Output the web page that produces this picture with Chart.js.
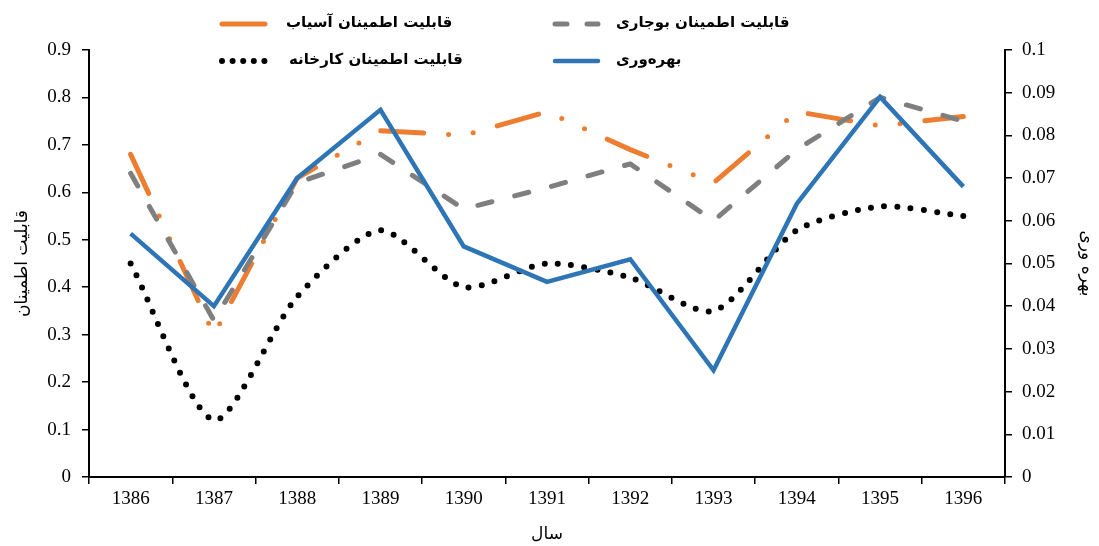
<!DOCTYPE html>
<html>
<head>
<meta charset="utf-8">
<script src="https://cdn.jsdelivr.net/npm/chart.js@4/dist/chart.umd.min.js"></script>
<style>
  html, body { margin: 0; padding: 0; background: #fff; }
  #wrap { width: 1099px; height: 546px; }
</style>
</head>
<body>
<div id="wrap"><canvas id="myChart" width="1099" height="546"></canvas></div>
<script>
// years
const years = ['1386', '1387', '1388', '1389', '1390', '1391', '1392', '1393', '1394', '1395', '1396'];

// reliability (left axis)
const millReliability = [0.68, 0.30, 0.63, 0.73, 0.72, 0.77, 0.69, 0.62, 0.77, 0.74, 0.76];
const cleaningReliability = [0.64, 0.33, 0.62, 0.68, 0.565, 0.61, 0.66, 0.54, 0.69, 0.80, 0.75];
const factoryReliability = [0.45, 0.12, 0.38, 0.52, 0.40, 0.45, 0.42, 0.35, 0.52, 0.57, 0.55];

// productivity (right axis)
const productivity = [0.057, 0.040, 0.070, 0.086, 0.054, 0.0457, 0.051, 0.025, 0.064, 0.089, 0.068];

const leftTicks = [0, 0.1, 0.2, 0.3, 0.4, 0.5, 0.6, 0.7, 0.8, 0.9];
const rightTicks = [0, 0.01, 0.02, 0.03, 0.04, 0.05, 0.06, 0.07, 0.08, 0.09, 0.1];

const persianFont = "'DejaVu Sans', sans-serif";
const numFont = "'Liberation Serif', serif";

// legend drawn by hand so it keeps the 2x2 layout of the original
const legendItems = [
    { idx: 0, x: 222, y: 24, textX: 286, legendDash: [43, 25] },
    { idx: 1, x: 555, y: 24, textX: 616, legendDash: [12, 20] },
    { idx: 2, x: 222, y: 61, textX: 289, legendDash: [0, 10.6] },
    { idx: 3, x: 555, y: 61, textX: 616, legendDash: [] }
];

const manualLegend = {
    id: 'manualLegend',
    afterDraw(chart) {
        const ctx = chart.ctx;
        legendItems.forEach(item => {
            const ds = chart.data.datasets[item.idx];
            ctx.save();
            ctx.strokeStyle = ds.borderColor;
            ctx.lineWidth = ds.borderWidth;
            ctx.lineCap = 'round';
            ctx.setLineDash(item.legendDash);
            ctx.beginPath();
            ctx.moveTo(item.x, item.y);
            ctx.lineTo(item.x + 43, item.y);
            ctx.stroke();
            ctx.setLineDash([]);
            ctx.fillStyle = '#000';
            ctx.font = 'bold 15px ' + persianFont;
            ctx.textBaseline = 'middle';
            ctx.textAlign = 'left';
            ctx.fillText(ds.label, item.textX, item.y - 1);
            ctx.restore();
        });
    }
};

const ctx = document.getElementById('myChart').getContext('2d');

new Chart(ctx, {
    type: 'line',
    data: {
        labels: years,
        datasets: [{
            label: 'قابلیت اطمینان آسیاب',
            data: millReliability,
            borderColor: '#ED7D31',
            borderWidth: 5,
            borderDash: [43, 25, 0, 25, 0, 25],
            borderCapStyle: 'round',
            pointRadius: 0,
            yAxisID: 'y',
            order: 3
        }, {
            label: 'قابلیت اطمینان بوجاری',
            data: cleaningReliability,
            borderColor: '#7F7F7F',
            borderWidth: 5,
            borderDash: [14.5, 23.5],
            borderCapStyle: 'round',
            pointRadius: 0,
            yAxisID: 'y',
            order: 2
        }, {
            label: 'قابلیت اطمینان کارخانه',
            data: factoryReliability,
            borderColor: '#000000',
            borderWidth: 6,
            borderDash: [0, 13.3],
            borderCapStyle: 'round',
            tension: 0.25,
            pointRadius: 0,
            yAxisID: 'y',
            order: 1
        }, {
            label: 'بهره‌وری',
            data: productivity,
            borderColor: '#2E75B6',
            borderWidth: 4.5,
            pointRadius: 0,
            yAxisID: 'y1',
            order: 0
        }]
    },
    options: {
        responsive: false,
        animation: false,
        layout: { padding: { top: 50, left: 0, right: 0, bottom: 0 } },
        plugins: {
            legend: { display: false },
            tooltip: { enabled: false }
        },
        scales: {
            x: {
                offset: true,
                afterFit(scale) { scale.height = 69; },
                grid: {
                    offset: true,
                    drawOnChartArea: false,
                    drawTicks: true,
                    tickLength: 7,
                    color: '#000',
                    lineWidth: 1.5
                },
                border: { display: true, color: '#000', width: 2 },
                ticks: {
                    color: '#000',
                    padding: 4,
                    maxRotation: 0,
                    font: { family: numFont, size: 19 }
                },
                title: {
                    display: true,
                    text: 'سال',
                    color: '#000',
                    font: { family: persianFont, size: 17 },
                    padding: { top: 0, bottom: 1 }
                }
            },
            y: {
                position: 'left',
                min: 0,
                max: 0.9,
                afterFit(scale) { scale.width = 89; },
                afterBuildTicks(scale) { scale.ticks = leftTicks.map(v => ({ value: v })); },
                grid: {
                    drawOnChartArea: false,
                    drawTicks: true,
                    tickLength: 7,
                    color: '#000',
                    lineWidth: 1.5
                },
                border: { display: true, color: '#000', width: 2 },
                ticks: {
                    color: '#000',
                    padding: 11,
                    font: { family: numFont, size: 19 },
                    callback: v => String(v)
                },
                title: {
                    display: true,
                    text: 'قابلیت اطمینان',
                    color: '#000',
                    font: { family: persianFont, size: 17 },
                    padding: { top: 12, bottom: 0 }
                }
            },
            y1: {
                position: 'right',
                min: 0,
                max: 0.1,
                afterFit(scale) { scale.width = 94; },
                afterBuildTicks(scale) { scale.ticks = rightTicks.map(v => ({ value: v })); },
                grid: {
                    drawOnChartArea: false,
                    drawTicks: true,
                    tickLength: 7,
                    color: '#000',
                    lineWidth: 1.5
                },
                border: { display: true, color: '#000', width: 2 },
                ticks: {
                    color: '#000',
                    padding: 10,
                    font: { family: numFont, size: 19 },
                    callback: v => String(v)
                },
                title: {
                    display: true,
                    text: 'بهره وری',
                    color: '#000',
                    font: { family: persianFont, size: 17 },
                    padding: { top: 2, bottom: 0 }
                }
            }
        }
    },
    plugins: [manualLegend]
});
</script>
</body>
</html>
